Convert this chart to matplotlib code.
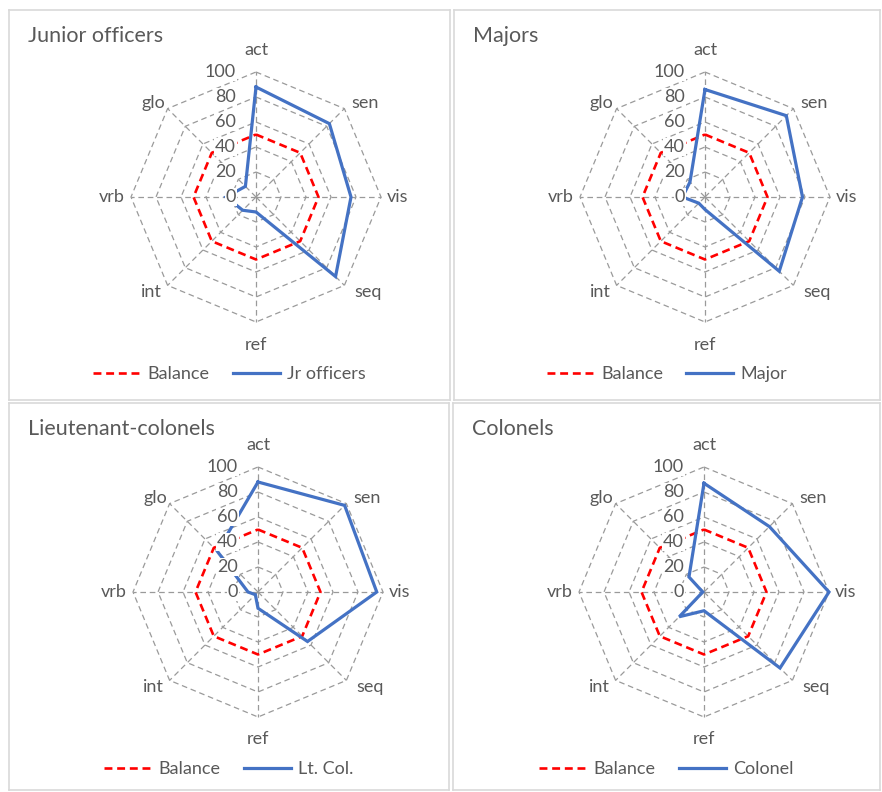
import matplotlib.pyplot as plt
from matplotlib.lines import Line2D
import numpy as np

# Felder-Silverman style dimensions, clockwise from the top
dimensions = ['act', 'sen', 'vis', 'seq', 'ref', 'int', 'vrb', 'glo']
balance = [50, 50, 50, 50, 50, 50, 50, 50]
jr_officers = [88, 83, 76, 90, 12, 15, 24, 12]
majors = [86, 92, 78, 84, 10, 7, 18, 17]
lt_cols = [88, 98, 95, 56, 13, 3, 8, 46]
colonels = [87, 74, 100, 86, 15, 28, 1, 17]
ticks = [0, 20, 40, 60, 80, 100]

titles = ['Junior officers', 'Majors', 'Lieutenant-colonels', 'Colonels']
series_names = ['Jr officers', 'Major', 'Lt. Col.', 'Colonel']
series = [jr_officers, majors, lt_cols, colonels]

W, H = 882, 792
TXT = '#595959'
BLUE = '#4472C4'
GRID = '#9a9a9a'
FS = 13

plt.rcParams['font.family'] = ['Lato', 'DejaVu Sans']

# panel boxes (x, y, w, h) in pixels from top-left, and plot centres
panels = [(9, 10, 441, 390), (454, 10, 426, 390),
          (9, 403, 440, 387), (453, 403, 427, 387)]
centers = [(256, 197), (705, 197), (258, 592), (704, 592)]


def px_rect(x, y, w, h):
    return [x / W, 1 - (y + h) / H, w / W, h / H]


def to_xy(values):
    theta = np.arange(len(values)) * 2 * np.pi / len(values)
    v = np.asarray(values, dtype=float)
    x = v * np.sin(theta)
    y = v * np.cos(theta)
    return np.append(x, x[0]), np.append(y, y[0])


def draw_radar(fig, panel, center, title, values, name):
    px, py, pw, ph = panel
    bg = fig.add_axes(px_rect(*panel))
    bg.set_xticks([])
    bg.set_yticks([])
    for s in bg.spines.values():
        s.set_color('#d9d9d9')
        s.set_linewidth(1.2)
    bg.text(19 / pw, 1 - 26 / ph, title, transform=bg.transAxes,
            fontsize=15.5, color=TXT, ha='left', va='center')

    cx, cy = center
    ax = fig.add_axes(px_rect(cx - 150, cy - 150, 300, 300))
    ax.set_xlim(-120, 120)
    ax.set_ylim(-120, 120)
    ax.axis('off')

    n = len(dimensions)
    # octagon grid and spokes
    for t in ticks[1:]:
        gx, gy = to_xy([t] * n)
        ax.plot(gx, gy, color=GRID, lw=0.9, ls=(0, (4.5, 3)), zorder=1)
    sx, sy = to_xy([100] * n)
    for i in range(n):
        ax.plot([0, sx[i]], [0, sy[i]], color=GRID, lw=0.9,
                ls=(0, (4.5, 3)), zorder=1)

    bx, by = to_xy(balance)
    ax.plot(bx, by, color='red', lw=1.9, ls=(0, (3, 1.8)), zorder=2)
    vx, vy = to_xy(values)
    ax.plot(vx, vy, color=BLUE, lw=2.3, zorder=3, solid_joinstyle='miter')

    # category labels
    pos = [(0, 117.5, 'center'), (76, 75, 'left'), (105, 0, 'left'),
           (79, -76, 'left'), (0, -118, 'center'), (-75, -76, 'right'),
           (-105, 0, 'right'), (-73, 75, 'right')]
    for lab, (lx, ly, ha) in zip(dimensions, pos):
        ax.text(lx, ly, lab, fontsize=FS, color=TXT, ha=ha, va='center',
                zorder=5)

    # value axis labels with white background, drawn above the lines
    for t in ticks:
        ax.text(-16, t, str(t), fontsize=FS, color=TXT, ha='right',
                va='center', zorder=6,
                bbox=dict(facecolor='white', edgecolor='none', pad=0.8))

    handles = [Line2D([], [], color='red', lw=1.9, ls=(0, (3, 1.8))),
               Line2D([], [], color=BLUE, lw=2.3)]
    leg_y = cy + 177
    fig.legend(handles, ['Balance', name], loc='center',
               bbox_to_anchor=((px + pw / 2) / W, 1 - leg_y / H),
               ncol=2, frameon=False, fontsize=FS, handlelength=2.6,
               handletextpad=0.4, columnspacing=1.3, labelcolor=TXT)


fig = plt.figure(figsize=(W / 100, H / 100), dpi=100)
for panel, center, title, values, name in zip(panels, centers, titles,
                                               series, series_names):
    draw_radar(fig, panel, center, title, values, name)

fig.savefig('out.png', dpi=100)
